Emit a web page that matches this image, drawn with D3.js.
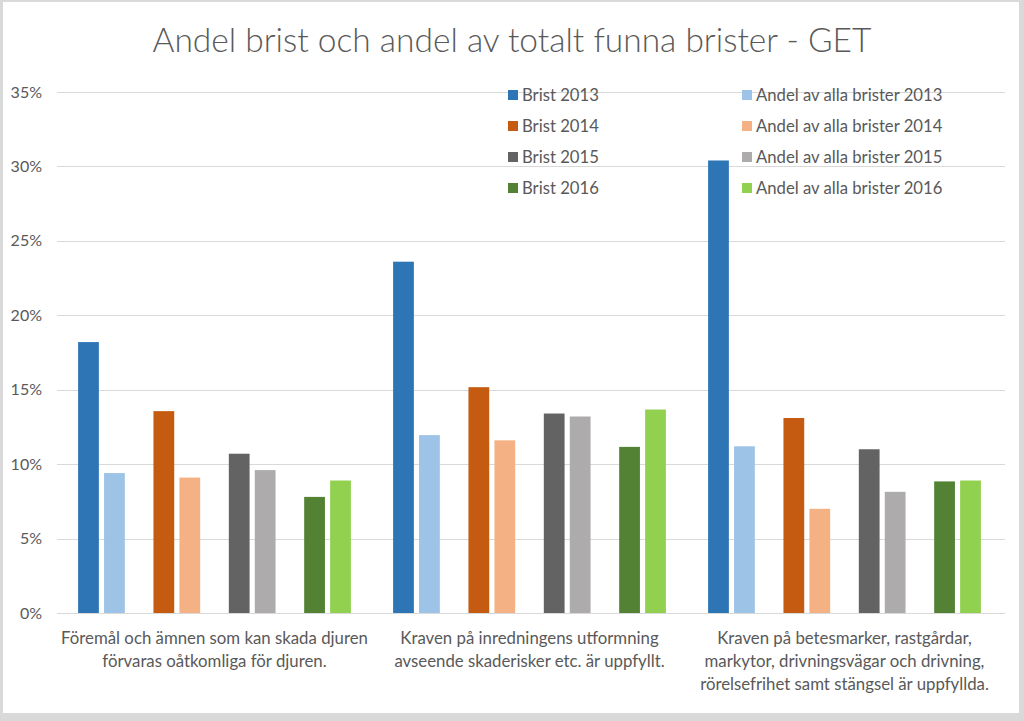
<!DOCTYPE html>
<html>
<head>
<meta charset="utf-8">
<script src="https://cdn.jsdelivr.net/npm/d3@7"></script>
<style>
  html, body { margin: 0; padding: 0; background: #fff; }
  svg { display: block; }
  text { font-family: Lato, "Open Sans", sans-serif; }
</style>
</head>
<body>
<svg id="chart" width="1024" height="721"></svg>
<script>
const title = "Andel brist och andel av totalt funna brister - GET";
const categories = [
  ["Föremål och ämnen som kan skada djuren", "förvaras oåtkomliga för djuren."],
  ["Kraven på inredningens utformning", "avseende skaderisker etc. är uppfyllt."],
  ["Kraven på betesmarker, rastgårdar,", "markytor, drivningsvägar och drivning,", "rörelsefrihet samt stängsel är uppfyllda."]
];
const years = ["2013", "2014", "2015", "2016"];
const types = ["Brist", "Andel av alla brister"];
// values per category
const brist2013 = [0.182, 0.236, 0.304];
const andel2013 = [0.094, 0.1195, 0.112];
const brist2014 = [0.1356, 0.1517, 0.131];
const andel2014 = [0.091, 0.116, 0.070];
const brist2015 = [0.107, 0.134, 0.110];
const andel2015 = [0.096, 0.132, 0.0814];
const brist2016 = [0.078, 0.1116, 0.0884];
const andel2016 = [0.089, 0.1367, 0.089];
const yTicks = [0, 0.05, 0.10, 0.15, 0.20, 0.25, 0.30, 0.35];
const colors = {
  "Brist 2013": "#2E75B6", "Andel av alla brister 2013": "#9DC3E6",
  "Brist 2014": "#C55A11", "Andel av alla brister 2014": "#F4B183",
  "Brist 2015": "#636363", "Andel av alla brister 2015": "#ADABAB",
  "Brist 2016": "#548235", "Andel av alla brister 2016": "#92D050"
};

const seriesData = {
  "2013": [brist2013, andel2013],
  "2014": [brist2014, andel2014],
  "2015": [brist2015, andel2015],
  "2016": [brist2016, andel2016]
};

const svg = d3.select("#chart");
const W = 1024, H = 721;

// frame
svg.append("rect").attr("x", 0).attr("y", 0).attr("width", W).attr("height", H).attr("fill", "#d9d9d9");
svg.append("rect").attr("x", 3).attr("y", 2).attr("width", 1016).attr("height", 711).attr("fill", "#fff");

const plot = { left: 57, right: 1005, top: 92, bottom: 613 };

const x0 = d3.scaleBand().domain(d3.range(categories.length)).range([plot.left, plot.right - 3]);
const x1 = d3.scaleBand().domain(years).range([0, x0.bandwidth()]).paddingInner(0.38).paddingOuter(0.28);
const x2 = d3.scaleBand().domain(types).range([0, x1.bandwidth()]).paddingInner(0.2);
const y = d3.scaleLinear().domain([0, 0.35]).range([plot.bottom, plot.top]);

// gridlines
svg.append("g").selectAll("line").data(yTicks).join("line")
  .attr("x1", plot.left).attr("x2", plot.right)
  .attr("y1", d => Math.round(y(d)) + 0.5).attr("y2", d => Math.round(y(d)) + 0.5)
  .attr("stroke", "#d9d9d9").attr("stroke-width", 1);

// y axis labels
const yAxis = d3.axisLeft(y).tickValues(yTicks).tickFormat(d3.format(".0%")).tickSize(0).tickPadding(0);
const ya = svg.append("g").attr("transform", `translate(42,0)`).call(yAxis);
ya.select(".domain").remove();
ya.selectAll("text").attr("fill", "#595959").style("font-size", "16px").style("font-family", "Lato, sans-serif");

// bars
const catG = svg.append("g").selectAll("g").data(categories).join("g")
  .attr("transform", (d, i) => `translate(${x0(i)},0)`);
catG.each(function(c, ci) {
  const g = d3.select(this);
  years.forEach(yr => {
    types.forEach((t, ti) => {
      const v = seriesData[yr][ti][ci];
      const name = t + " " + yr;
      g.append("rect")
        .attr("x", x1(yr) + x2(t))
        .attr("width", x2.bandwidth())
        .attr("y", y(v))
        .attr("height", y(0) - y(v))
        .attr("fill", colors[name]);
    });
  });
});

// category labels
catG.append("text")
  .attr("text-anchor", "middle")
  .attr("fill", "#595959")
  .style("font-size", "16.8px")
  .selectAll("tspan").data(d => d).join("tspan")
  .attr("x", x0.bandwidth() / 2)
  .attr("y", (d, i) => 644 + i * 23)
  .text(d => d);

// title
svg.append("text").attr("x", 512).attr("y", 52).attr("text-anchor", "middle")
  .attr("fill", "#595959").style("font-size", "33.5px").style("font-weight", 300)
  .text(title);

// legend
const legendCols = [
  { x: 508, names: years.map(yr => "Brist " + yr) },
  { x: 742, names: years.map(yr => "Andel av alla brister " + yr) }
];
legendCols.forEach(col => {
  const lg = svg.append("g").selectAll("g").data(col.names).join("g")
    .attr("transform", (d, i) => `translate(${col.x},${95 + i * 31})`);
  lg.append("rect").attr("x", 0).attr("y", -5).attr("width", 10).attr("height", 10).attr("fill", d => colors[d]);
  lg.append("text").attr("x", 14).attr("y", 0).attr("dy", "0.35em")
    .attr("fill", "#595959").style("font-size", "16.7px").text(d => d);
});
</script>
</body>
</html>
